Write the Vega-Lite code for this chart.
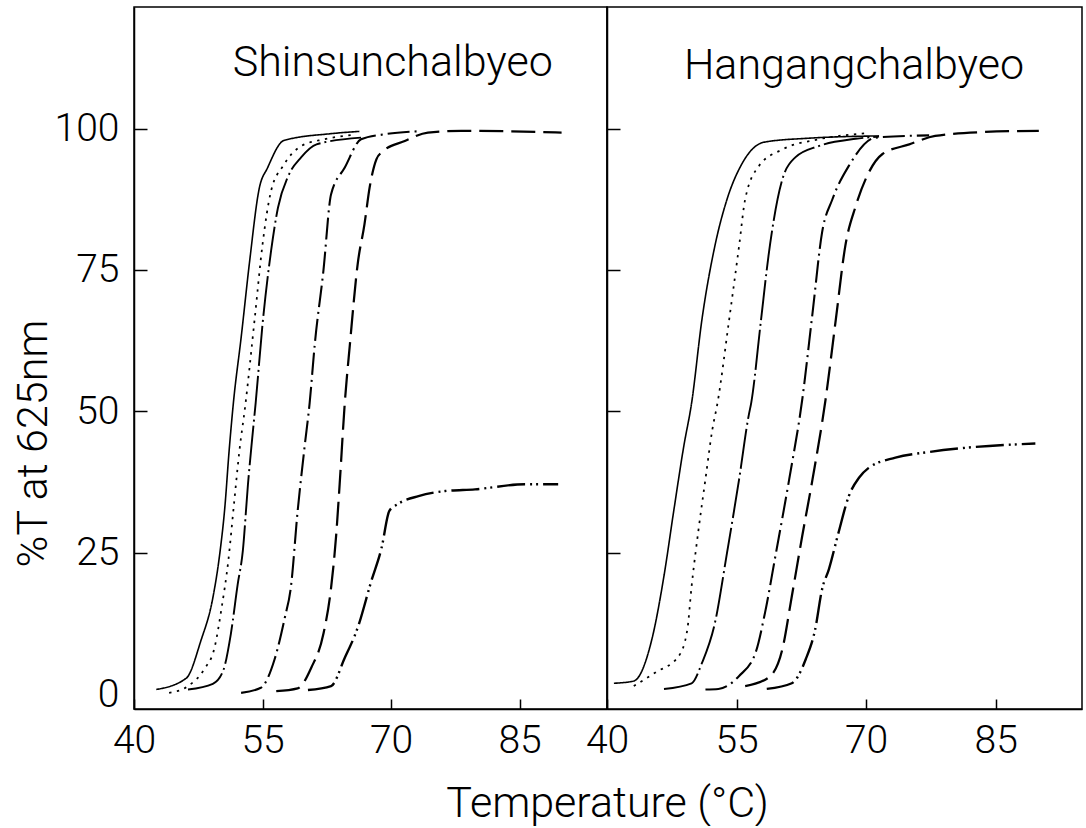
{
  "$schema": "https://vega.github.io/schema/vega-lite/v6.json",
  "background": "white",
  "padding": {"left": 11, "top": 6, "right": 4, "bottom": 0},
  "bounds": "flush",
  "spacing": 0,
  "datasets": {
    "curves": [
      {"variety":"Shinsunchalbyeo","series":"1","T":42.6,"v":0.8},
      {"variety":"Shinsunchalbyeo","series":"1","T":46.1,"v":2.8},
      {"variety":"Shinsunchalbyeo","series":"1","T":47.8,"v":9.4},
      {"variety":"Shinsunchalbyeo","series":"1","T":49.2,"v":17.0},
      {"variety":"Shinsunchalbyeo","series":"1","T":50.0,"v":24.7},
      {"variety":"Shinsunchalbyeo","series":"1","T":50.6,"v":33.0},
      {"variety":"Shinsunchalbyeo","series":"1","T":51.1,"v":43.0},
      {"variety":"Shinsunchalbyeo","series":"1","T":51.6,"v":51.5},
      {"variety":"Shinsunchalbyeo","series":"1","T":52.5,"v":63.0},
      {"variety":"Shinsunchalbyeo","series":"1","T":53.5,"v":76.6},
      {"variety":"Shinsunchalbyeo","series":"1","T":54.6,"v":89.3},
      {"variety":"Shinsunchalbyeo","series":"1","T":55.6,"v":93.1},
      {"variety":"Shinsunchalbyeo","series":"1","T":57.5,"v":97.9},
      {"variety":"Shinsunchalbyeo","series":"1","T":63.0,"v":99.1},
      {"variety":"Shinsunchalbyeo","series":"1","T":66.3,"v":99.5},
      {"variety":"Shinsunchalbyeo","series":"2","T":44.1,"v":0.2},
      {"variety":"Shinsunchalbyeo","series":"2","T":46.3,"v":1.4},
      {"variety":"Shinsunchalbyeo","series":"2","T":48.2,"v":4.4},
      {"variety":"Shinsunchalbyeo","series":"2","T":49.4,"v":8.2},
      {"variety":"Shinsunchalbyeo","series":"2","T":50.2,"v":15.0},
      {"variety":"Shinsunchalbyeo","series":"2","T":51.0,"v":23.5},
      {"variety":"Shinsunchalbyeo","series":"2","T":51.7,"v":34.1},
      {"variety":"Shinsunchalbyeo","series":"2","T":52.3,"v":43.0},
      {"variety":"Shinsunchalbyeo","series":"2","T":53.0,"v":51.2},
      {"variety":"Shinsunchalbyeo","series":"2","T":54.1,"v":66.6},
      {"variety":"Shinsunchalbyeo","series":"2","T":55.0,"v":79.5},
      {"variety":"Shinsunchalbyeo","series":"2","T":56.0,"v":89.0},
      {"variety":"Shinsunchalbyeo","series":"2","T":57.4,"v":93.4},
      {"variety":"Shinsunchalbyeo","series":"2","T":59.5,"v":96.9},
      {"variety":"Shinsunchalbyeo","series":"2","T":62.2,"v":98.1},
      {"variety":"Shinsunchalbyeo","series":"2","T":65.6,"v":98.9},
      {"variety":"Shinsunchalbyeo","series":"3","T":46.3,"v":0.8},
      {"variety":"Shinsunchalbyeo","series":"3","T":49.2,"v":1.8},
      {"variety":"Shinsunchalbyeo","series":"3","T":50.4,"v":4.1},
      {"variety":"Shinsunchalbyeo","series":"3","T":51.3,"v":10.6},
      {"variety":"Shinsunchalbyeo","series":"3","T":52.1,"v":19.4},
      {"variety":"Shinsunchalbyeo","series":"3","T":52.7,"v":25.3},
      {"variety":"Shinsunchalbyeo","series":"3","T":53.3,"v":37.1},
      {"variety":"Shinsunchalbyeo","series":"3","T":53.8,"v":45.3},
      {"variety":"Shinsunchalbyeo","series":"3","T":54.2,"v":51.5},
      {"variety":"Shinsunchalbyeo","series":"3","T":55.0,"v":65.4},
      {"variety":"Shinsunchalbyeo","series":"3","T":56.0,"v":78.4},
      {"variety":"Shinsunchalbyeo","series":"3","T":56.8,"v":86.0},
      {"variety":"Shinsunchalbyeo","series":"3","T":58.0,"v":91.6},
      {"variety":"Shinsunchalbyeo","series":"3","T":59.5,"v":94.9},
      {"variety":"Shinsunchalbyeo","series":"3","T":61.3,"v":97.2},
      {"variety":"Shinsunchalbyeo","series":"3","T":66.5,"v":98.4},
      {"variety":"Shinsunchalbyeo","series":"4","T":52.5,"v":0.2},
      {"variety":"Shinsunchalbyeo","series":"4","T":54.8,"v":1.1},
      {"variety":"Shinsunchalbyeo","series":"4","T":56.4,"v":6.1},
      {"variety":"Shinsunchalbyeo","series":"4","T":57.6,"v":13.5},
      {"variety":"Shinsunchalbyeo","series":"4","T":58.3,"v":18.8},
      {"variety":"Shinsunchalbyeo","series":"4","T":59.1,"v":32.4},
      {"variety":"Shinsunchalbyeo","series":"4","T":59.9,"v":43.6},
      {"variety":"Shinsunchalbyeo","series":"4","T":60.5,"v":51.5},
      {"variety":"Shinsunchalbyeo","series":"4","T":61.1,"v":61.9},
      {"variety":"Shinsunchalbyeo","series":"4","T":62.1,"v":74.8},
      {"variety":"Shinsunchalbyeo","series":"4","T":63.0,"v":88.4},
      {"variety":"Shinsunchalbyeo","series":"4","T":64.6,"v":93.1},
      {"variety":"Shinsunchalbyeo","series":"4","T":66.5,"v":98.1},
      {"variety":"Shinsunchalbyeo","series":"4","T":69.3,"v":99.0},
      {"variety":"Shinsunchalbyeo","series":"4","T":73.0,"v":99.5},
      {"variety":"Shinsunchalbyeo","series":"5","T":56.6,"v":0.5},
      {"variety":"Shinsunchalbyeo","series":"5","T":59.1,"v":1.0},
      {"variety":"Shinsunchalbyeo","series":"5","T":60.7,"v":4.7},
      {"variety":"Shinsunchalbyeo","series":"5","T":62.1,"v":10.6},
      {"variety":"Shinsunchalbyeo","series":"5","T":63.0,"v":18.8},
      {"variety":"Shinsunchalbyeo","series":"5","T":63.6,"v":28.2},
      {"variety":"Shinsunchalbyeo","series":"5","T":64.0,"v":37.1},
      {"variety":"Shinsunchalbyeo","series":"5","T":64.6,"v":51.5},
      {"variety":"Shinsunchalbyeo","series":"5","T":65.2,"v":61.9},
      {"variety":"Shinsunchalbyeo","series":"5","T":66.1,"v":76.0},
      {"variety":"Shinsunchalbyeo","series":"5","T":66.9,"v":83.1},
      {"variety":"Shinsunchalbyeo","series":"5","T":67.5,"v":89.6},
      {"variety":"Shinsunchalbyeo","series":"5","T":68.3,"v":94.6},
      {"variety":"Shinsunchalbyeo","series":"5","T":68.9,"v":95.8},
      {"variety":"Shinsunchalbyeo","series":"5","T":71.6,"v":97.8},
      {"variety":"Shinsunchalbyeo","series":"5","T":74.3,"v":99.3},
      {"variety":"Shinsunchalbyeo","series":"5","T":78.2,"v":99.6},
      {"variety":"Shinsunchalbyeo","series":"5","T":89.9,"v":99.3},
      {"variety":"Shinsunchalbyeo","series":"6","T":60.3,"v":0.7},
      {"variety":"Shinsunchalbyeo","series":"6","T":63.0,"v":1.4},
      {"variety":"Shinsunchalbyeo","series":"6","T":64.6,"v":6.4},
      {"variety":"Shinsunchalbyeo","series":"6","T":66.1,"v":11.7},
      {"variety":"Shinsunchalbyeo","series":"6","T":67.7,"v":20.0},
      {"variety":"Shinsunchalbyeo","series":"6","T":68.9,"v":25.9},
      {"variety":"Shinsunchalbyeo","series":"6","T":69.8,"v":32.4},
      {"variety":"Shinsunchalbyeo","series":"6","T":70.8,"v":33.6},
      {"variety":"Shinsunchalbyeo","series":"6","T":73.2,"v":35.0},
      {"variety":"Shinsunchalbyeo","series":"6","T":76.3,"v":35.9},
      {"variety":"Shinsunchalbyeo","series":"6","T":79.8,"v":36.2},
      {"variety":"Shinsunchalbyeo","series":"6","T":85.6,"v":37.1},
      {"variety":"Shinsunchalbyeo","series":"6","T":89.5,"v":37.1},
      {"variety":"Hangangchalbyeo","series":"1","T":40.8,"v":1.9},
      {"variety":"Hangangchalbyeo","series":"1","T":43.1,"v":2.3},
      {"variety":"Hangangchalbyeo","series":"1","T":45.2,"v":9.7},
      {"variety":"Hangangchalbyeo","series":"1","T":46.6,"v":20.9},
      {"variety":"Hangangchalbyeo","series":"1","T":47.7,"v":32.1},
      {"variety":"Hangangchalbyeo","series":"1","T":48.9,"v":43.9},
      {"variety":"Hangangchalbyeo","series":"1","T":49.8,"v":51.5},
      {"variety":"Hangangchalbyeo","series":"1","T":51.0,"v":66.3},
      {"variety":"Hangangchalbyeo","series":"1","T":52.5,"v":79.3},
      {"variety":"Hangangchalbyeo","series":"1","T":53.9,"v":87.5},
      {"variety":"Hangangchalbyeo","series":"1","T":55.6,"v":93.7},
      {"variety":"Hangangchalbyeo","series":"1","T":58.2,"v":97.6},
      {"variety":"Hangangchalbyeo","series":"1","T":63.4,"v":98.3},
      {"variety":"Hangangchalbyeo","series":"1","T":71.5,"v":98.7},
      {"variety":"Hangangchalbyeo","series":"2","T":43.1,"v":1.4},
      {"variety":"Hangangchalbyeo","series":"2","T":45.6,"v":3.8},
      {"variety":"Hangangchalbyeo","series":"2","T":48.3,"v":6.7},
      {"variety":"Hangangchalbyeo","series":"2","T":49.3,"v":11.4},
      {"variety":"Hangangchalbyeo","series":"2","T":49.8,"v":19.1},
      {"variety":"Hangangchalbyeo","series":"2","T":50.6,"v":29.1},
      {"variety":"Hangangchalbyeo","series":"2","T":51.4,"v":38.0},
      {"variety":"Hangangchalbyeo","series":"2","T":52.2,"v":46.8},
      {"variety":"Hangangchalbyeo","series":"2","T":52.8,"v":51.5},
      {"variety":"Hangangchalbyeo","series":"2","T":54.1,"v":65.7},
      {"variety":"Hangangchalbyeo","series":"2","T":55.3,"v":79.3},
      {"variety":"Hangangchalbyeo","series":"2","T":56.0,"v":87.5},
      {"variety":"Hangangchalbyeo","series":"2","T":57.6,"v":93.4},
      {"variety":"Hangangchalbyeo","series":"2","T":60.3,"v":96.3},
      {"variety":"Hangangchalbyeo","series":"2","T":64.5,"v":98.1},
      {"variety":"Hangangchalbyeo","series":"2","T":70.3,"v":99.2},
      {"variety":"Hangangchalbyeo","series":"3","T":46.6,"v":0.9},
      {"variety":"Hangangchalbyeo","series":"3","T":49.8,"v":1.9},
      {"variety":"Hangangchalbyeo","series":"3","T":51.0,"v":5.5},
      {"variety":"Hangangchalbyeo","series":"3","T":52.5,"v":12.6},
      {"variety":"Hangangchalbyeo","series":"3","T":53.9,"v":25.0},
      {"variety":"Hangangchalbyeo","series":"3","T":55.3,"v":38.0},
      {"variety":"Hangangchalbyeo","series":"3","T":56.4,"v":49.2},
      {"variety":"Hangangchalbyeo","series":"3","T":56.7,"v":51.5},
      {"variety":"Hangangchalbyeo","series":"3","T":57.8,"v":65.7},
      {"variety":"Hangangchalbyeo","series":"3","T":58.7,"v":77.5},
      {"variety":"Hangangchalbyeo","series":"3","T":60.3,"v":91.0},
      {"variety":"Hangangchalbyeo","series":"3","T":61.8,"v":94.9},
      {"variety":"Hangangchalbyeo","series":"3","T":64.5,"v":96.9},
      {"variety":"Hangangchalbyeo","series":"3","T":68.8,"v":98.2},
      {"variety":"Hangangchalbyeo","series":"3","T":71.5,"v":98.6},
      {"variety":"Hangangchalbyeo","series":"4","T":51.4,"v":0.8},
      {"variety":"Hangangchalbyeo","series":"4","T":52.9,"v":0.9},
      {"variety":"Hangangchalbyeo","series":"4","T":55.3,"v":3.2},
      {"variety":"Hangangchalbyeo","series":"4","T":57.2,"v":7.3},
      {"variety":"Hangangchalbyeo","series":"4","T":58.3,"v":14.4},
      {"variety":"Hangangchalbyeo","series":"4","T":59.5,"v":24.4},
      {"variety":"Hangangchalbyeo","series":"4","T":61.1,"v":38.0},
      {"variety":"Hangangchalbyeo","series":"4","T":62.6,"v":52.0},
      {"variety":"Hangangchalbyeo","series":"4","T":63.8,"v":67.4},
      {"variety":"Hangangchalbyeo","series":"4","T":64.9,"v":81.6},
      {"variety":"Hangangchalbyeo","series":"4","T":66.1,"v":87.5},
      {"variety":"Hangangchalbyeo","series":"4","T":68.0,"v":93.4},
      {"variety":"Hangangchalbyeo","series":"4","T":71.1,"v":98.4},
      {"variety":"Hangangchalbyeo","series":"4","T":77.3,"v":98.8},
      {"variety":"Hangangchalbyeo","series":"5","T":56.0,"v":1.4},
      {"variety":"Hangangchalbyeo","series":"5","T":58.7,"v":2.9},
      {"variety":"Hangangchalbyeo","series":"5","T":60.3,"v":7.9},
      {"variety":"Hangangchalbyeo","series":"5","T":61.4,"v":17.3},
      {"variety":"Hangangchalbyeo","series":"5","T":62.6,"v":27.9},
      {"variety":"Hangangchalbyeo","series":"5","T":63.8,"v":38.0},
      {"variety":"Hangangchalbyeo","series":"5","T":65.3,"v":52.0},
      {"variety":"Hangangchalbyeo","series":"5","T":66.5,"v":66.3},
      {"variety":"Hangangchalbyeo","series":"5","T":67.6,"v":79.3},
      {"variety":"Hangangchalbyeo","series":"5","T":68.8,"v":86.3},
      {"variety":"Hangangchalbyeo","series":"5","T":70.3,"v":92.2},
      {"variety":"Hangangchalbyeo","series":"5","T":71.9,"v":95.5},
      {"variety":"Hangangchalbyeo","series":"5","T":75.0,"v":97.2},
      {"variety":"Hangangchalbyeo","series":"5","T":78.0,"v":98.7},
      {"variety":"Hangangchalbyeo","series":"5","T":83.8,"v":99.4},
      {"variety":"Hangangchalbyeo","series":"5","T":90.0,"v":99.6},
      {"variety":"Hangangchalbyeo","series":"6","T":58.5,"v":0.9},
      {"variety":"Hangangchalbyeo","series":"6","T":61.4,"v":1.9},
      {"variety":"Hangangchalbyeo","series":"6","T":63.0,"v":6.1},
      {"variety":"Hangangchalbyeo","series":"6","T":64.1,"v":11.4},
      {"variety":"Hangangchalbyeo","series":"6","T":64.9,"v":18.5},
      {"variety":"Hangangchalbyeo","series":"6","T":65.7,"v":22.1},
      {"variety":"Hangangchalbyeo","series":"6","T":66.8,"v":28.5},
      {"variety":"Hangangchalbyeo","series":"6","T":68.0,"v":35.0},
      {"variety":"Hangangchalbyeo","series":"6","T":69.2,"v":38.3},
      {"variety":"Hangangchalbyeo","series":"6","T":70.3,"v":40.0},
      {"variety":"Hangangchalbyeo","series":"6","T":73.4,"v":41.8},
      {"variety":"Hangangchalbyeo","series":"6","T":77.3,"v":42.8},
      {"variety":"Hangangchalbyeo","series":"6","T":81.9,"v":43.6},
      {"variety":"Hangangchalbyeo","series":"6","T":89.6,"v":44.3}
    ]
  },
  "config": {
    "view": {"stroke": "black", "strokeWidth": 1.5},
    "axis": {
      "grid": false,
      "domainColor": "black",
      "domainWidth": 1.5,
      "tickColor": "black",
      "tickWidth": 1.5,
      "labelFont": "Roboto",
      "labelFontWeight": 300,
      "labelFontSize": 39,
      "labelColor": "black",
      "titleFont": "Roboto",
      "titleFontWeight": 300,
      "titleFontSize": 43,
      "titleColor": "black"
    }
  },
  "resolve": {"scale": {"x": "independent", "y": "independent"}},
  "hconcat": [
    {
      "width": 473,
      "height": 702,
      "layer": [
        {
          "data": {"name": "curves"},
          "transform": [{"filter": "datum.variety === 'Shinsunchalbyeo'"}],
          "mark": {"type": "line", "interpolate": "monotone", "color": "black", "strokeCap": "butt"},
          "encoding": {
            "x": {
              "field": "T", "type": "quantitative",
              "scale": {"domain": [40, 95.2], "nice": false, "zero": false},
              "axis": {
                "values": [40, 55, 70, 85],
                "tickSize": -10,
                "labelPadding": 22,
                "labelFlush": false,
                "title": "Temperature (°C)",
                "titleX": 473,
                "titleY": 107,
                "titleAlign": "center",
                "titleBaseline": "alphabetic"
              }
            },
            "y": {
              "field": "v", "type": "quantitative",
              "scale": {"domain": [-2.65, 121.5], "nice": false, "zero": false},
              "axis": {
                "values": [0, 25, 50, 75, 100],
                "tickSize": -13,
                "labelPadding": 28,
                "tickColor": {"condition": {"test": "datum.value === 0", "value": "transparent"}, "value": "black"},
                "title": "%T at 625nm",
                "titleX": -101,
                "titleY": 436,
                "titleAngle": -90,
                "titleAlign": "center",
                "titleBaseline": "middle"
              }
            },
            "strokeDash": {
              "field": "series", "type": "nominal",
              "scale": {
                "domain": ["1", "2", "3", "4", "5", "6"],
                "range": [[1, 0], [2.4, 5.5], [40, 4, 2, 4], [22, 5, 2, 5], [24, 8], [28, 5, 2, 4, 2, 5]]
              },
              "legend": null
            },
            "strokeWidth": {
              "field": "series", "type": "nominal",
              "scale": {"domain": ["1", "2", "3", "4", "5", "6"], "range": [1.6, 2.4, 1.6, 1.6, 1.6, 1.6]},
              "legend": null
            }
          }
        },
        {
          "data": {"values": [{"title": "Shinsunchalbyeo"}]},
          "mark": {"type": "text", "font": "Roboto", "fontWeight": 300, "fontSize": 43, "align": "center", "baseline": "alphabetic", "color": "black"},
          "encoding": {
            "x": {"datum": 70.2},
            "y": {"datum": 109.3},
            "text": {"field": "title"}
          }
        }
      ]
    },
    {
      "width": 475,
      "height": 702,
      "layer": [
        {
          "data": {"name": "curves"},
          "transform": [{"filter": "datum.variety === 'Hangangchalbyeo'"}],
          "mark": {"type": "line", "interpolate": "monotone", "color": "black", "strokeCap": "butt"},
          "encoding": {
            "x": {
              "field": "T", "type": "quantitative",
              "scale": {"domain": [40, 95], "nice": false, "zero": false},
              "axis": {
                "values": [40, 55, 70, 85],
                "tickSize": -10,
                "labelPadding": 22,
                "labelFlush": false,
                "title": null
              }
            },
            "y": {
              "field": "v", "type": "quantitative",
              "scale": {"domain": [-2.65, 121.5], "nice": false, "zero": false},
              "axis": {
                "values": [25, 50, 75, 100],
                "tickSize": -13,
                "labels": false,
                "title": null
              }
            },
            "strokeDash": {
              "field": "series", "type": "nominal",
              "scale": {
                "domain": ["1", "2", "3", "4", "5", "6"],
                "range": [[1, 0], [2.4, 5.5], [40, 4, 2, 4], [22, 5, 2, 5], [24, 8], [28, 5, 2, 4, 2, 5]]
              },
              "legend": null
            },
            "strokeWidth": {
              "field": "series", "type": "nominal",
              "scale": {"domain": ["1", "2", "3", "4", "5", "6"], "range": [1.6, 2.4, 1.6, 1.6, 1.6, 1.6]},
              "legend": null
            }
          }
        },
        {
          "data": {"values": [{"title": "Hangangchalbyeo"}]},
          "mark": {"type": "text", "font": "Roboto", "fontWeight": 300, "fontSize": 43, "align": "center", "baseline": "alphabetic", "color": "black"},
          "encoding": {
            "x": {"datum": 68.6},
            "y": {"datum": 108.8},
            "text": {"field": "title"}
          }
        }
      ]
    }
  ]
}
